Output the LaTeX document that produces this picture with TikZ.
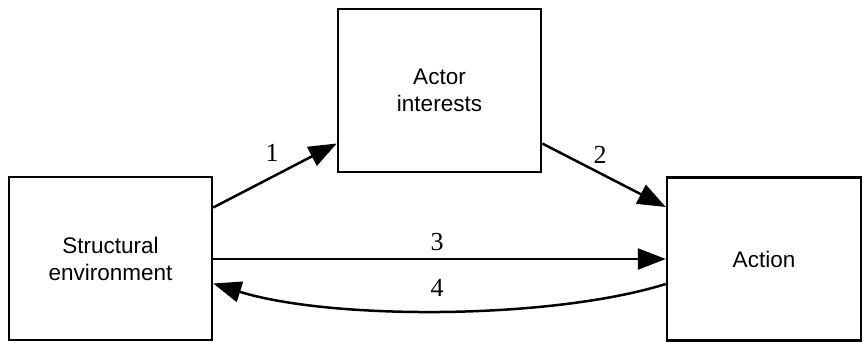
\documentclass[tikz,border=0pt]{standalone}
\usepackage{fontspec}
\setmainfont{Liberation Serif}
\newfontfamily\boxfont{Liberation Sans}
\usetikzlibrary{arrows.meta}
\begin{document}
\begin{tikzpicture}[x=1pt,y=-1pt,
  box/.style={draw, line width=2.5pt, minimum width=203pt, minimum height=163pt,
    align=center, inner sep=0pt, font=\boxfont\fontsize{22.5}{27}\selectfont},
  conn/.style={line width=2.5pt, -{Triangle[length=28pt,width=21pt]}},
  num/.style={font=\fontsize{26}{30}\selectfont, inner sep=0pt}]
\useasboundingbox (0,0) rectangle (864,342);
\node[box] (se) at (110.5,258.5) {Structural\\environment};
\node[box] (ai) at (439.5,90.5) {Actor\\interests};
\node[box, minimum width=194pt] (ac) at (764,259) {Action};
\draw[conn] ([yshift=51pt]se.east) -- ([yshift=-53pt]ai.west);
\draw[conn] ([yshift=-53pt]ai.east) -- ([yshift=52pt]ac.west);
\draw[conn] ([yshift=-0.5pt]se.east) -- ([yshift=0pt]ac.west);
\draw[conn] ([yshift=-25pt]ac.west) .. controls (550,320) and (330,320) .. ([yshift=-25pt]se.east);
\node[num] (l1) at (272,153) {1};
\node[num] (l2) at (600,155) {2};
\node[num] (l3) at (437,242) {3};
\node[num] (l4) at (437,288) {4};
\end{tikzpicture}
\end{document}
